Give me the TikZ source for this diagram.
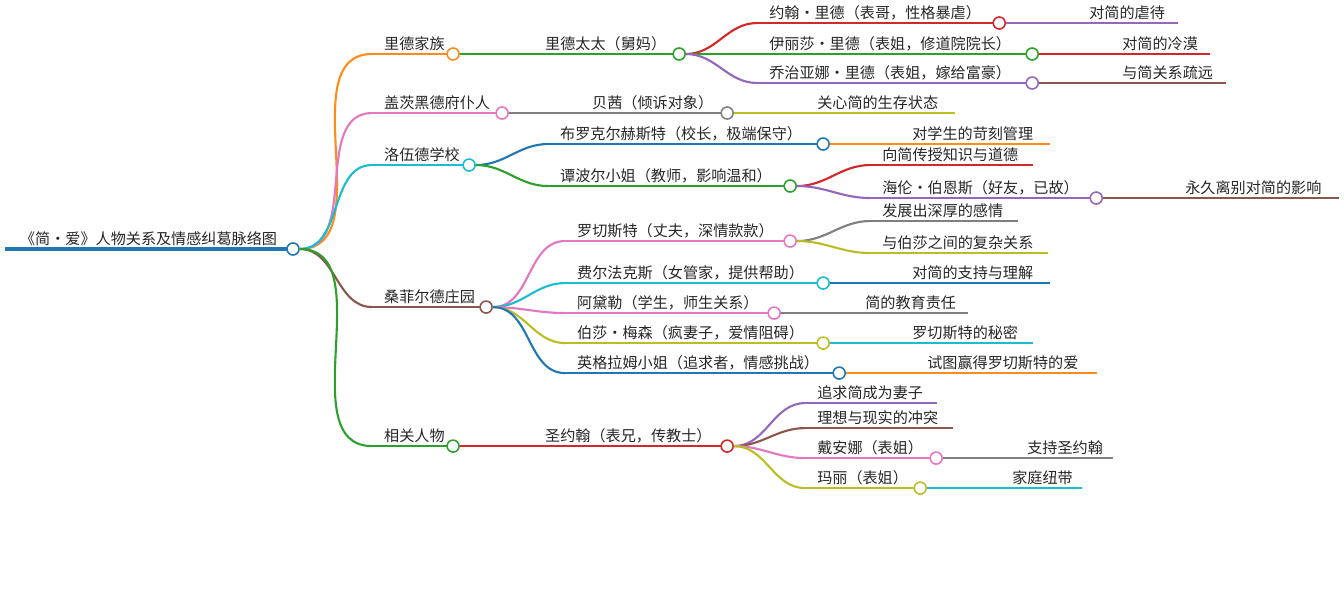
\documentclass[tikz,border=0pt]{standalone}
\usepackage{fontspec}
\setmainfont{Noto Sans CJK SC}
\definecolor{cBlue}{HTML}{1F77B4}
\definecolor{cOrange}{HTML}{FF8C1A}
\definecolor{cGreen}{HTML}{2CA02C}
\definecolor{cRed}{HTML}{D62728}
\definecolor{cPurple}{HTML}{9467BD}
\definecolor{cBrown}{HTML}{8C564B}
\definecolor{cPink}{HTML}{E377C2}
\definecolor{cGray}{HTML}{7F7F7F}
\definecolor{cOlive}{HTML}{BCBD22}
\definecolor{cCyan}{HTML}{17BECF}
\tikzset{
  link/.style={line width=1.2pt},
  dot/.style={circle, line width=0.9pt, fill=white, inner sep=0pt, minimum size=0.24cm},
  leaf/.style={draw=none, inner sep=0pt, minimum size=0pt},
  lbl/.style={font=\fontsize{8.6}{10}\selectfont, text=black!85, inner sep=1pt, anchor=south west}
}
% parent, name, y, text x, end x, colour, text, end style
\newcommand{\br}[8]{%
  \coordinate (#2s) at ({(#4-10)*0.02},{-#3*0.02});
  \draw[#6, link] (#1.east) to[out=0, in=180] (#2s);
  \draw[#6, link] (#2s) -- ({#5*0.02},{-#3*0.02}) node[draw=#6, #8] (#2) {};
  \node[lbl] at ({#4*0.02},{-(#3-1)*0.02}) {#7};
}
\begin{document}
\begin{tikzpicture}
\useasboundingbox (0,0) rectangle (26.88,-12.1);
% root
\draw[cBlue, line width=2.4pt] (0.1,-4.98) -- (5.86,-4.98) node[dot, draw=cBlue] (root) {};
\node[lbl] at (0.36,-4.96) {《简・爱》人物关系及情感纠葛脉络图};
% Reed family
\br{root}{reed}{54}{382}{453}{cOrange}{里德家族}{dot}
\br{reed}{mrs}{54}{543}{679}{cGreen}{里德太太（舅妈）}{dot}
\br{mrs}{john}{23}{767}{999}{cRed}{约翰・里德（表哥，性格暴虐）}{dot}
\br{john}{johnA}{23}{1087}{1178}{cPurple}{对简的虐待}{leaf}
\br{mrs}{eliza}{54}{767}{1032}{cGreen}{伊丽莎・里德（表姐，修道院院长）}{dot}
\br{eliza}{elizaA}{54}{1120}{1210}{cRed}{对简的冷漠}{leaf}
\br{mrs}{geo}{83}{767}{1032}{cPurple}{乔治亚娜・里德（表姐，嫁给富豪）}{dot}
\br{geo}{geoA}{83}{1120}{1226}{cBrown}{与简关系疏远}{leaf}
% Gateshead servants
\br{root}{gates}{113}{382}{502}{cPink}{盖茨黑德府仆人}{dot}
\br{gates}{bessie}{113}{590}{727}{cGray}{贝茜（倾诉对象）}{dot}
\br{bessie}{bessieA}{113}{815}{955}{cOlive}{关心简的生存状态}{leaf}
% Lowood
\br{root}{lowood}{165}{382}{469}{cCyan}{洛伍德学校}{dot}
\br{lowood}{brock}{144}{558}{823}{cBlue}{布罗克尔赫斯特（校长，极端保守）}{dot}
\br{brock}{brockA}{144}{910}{1050}{cOrange}{对学生的苛刻管理}{leaf}
\br{lowood}{temple}{186}{558}{790}{cGreen}{谭波尔小姐（教师，影响温和）}{dot}
\br{temple}{templeA}{165}{880}{1033}{cRed}{向简传授知识与道德}{leaf}
\br{temple}{helen}{198}{880}{1096}{cPurple}{海伦・伯恩斯（好友，已故）}{dot}
\br{helen}{helenA}{198}{1183}{1339}{cBrown}{永久离别对简的影响}{leaf}
% Thornfield
\br{root}{thorn}{307}{382}{486}{cBrown}{桑菲尔德庄园}{dot}
\br{thorn}{roch}{241}{575}{790}{cPink}{罗切斯特（丈夫，深情款款）}{dot}
\br{roch}{rochA}{221}{880}{1018}{cGray}{发展出深厚的感情}{leaf}
\br{roch}{rochB}{253}{880}{1048}{cOlive}{与伯莎之间的复杂关系}{leaf}
\br{thorn}{fair}{283}{575}{823}{cCyan}{费尔法克斯（女管家，提供帮助）}{dot}
\br{fair}{fairA}{283}{910}{1050}{cBlue}{对简的支持与理解}{leaf}
\br{thorn}{adele}{313}{575}{774}{cPink}{阿黛勒（学生，师生关系）}{dot}
\br{adele}{adeleA}{313}{863}{968}{cGray}{简的教育责任}{leaf}
\br{thorn}{bertha}{343}{575}{823}{cOlive}{伯莎・梅森（疯妻子，爱情阻碍）}{dot}
\br{bertha}{berthaA}{343}{910}{1033}{cCyan}{罗切斯特的秘密}{leaf}
\br{thorn}{ingram}{373}{575}{839}{cBlue}{英格拉姆小姐（追求者，情感挑战）}{dot}
\br{ingram}{ingramA}{373}{925}{1097}{cOrange}{试图赢得罗切斯特的爱}{leaf}
% Others
\br{root}{other}{446}{382}{453}{cGreen}{相关人物}{dot}
\br{other}{stjohn}{446}{543}{727}{cRed}{圣约翰（表兄，传教士）}{dot}
\br{stjohn}{sjA}{403}{815}{937}{cPurple}{追求简成为妻子}{leaf}
\br{stjohn}{sjB}{428}{815}{953}{cBrown}{理想与现实的冲突}{leaf}
\br{stjohn}{diana}{458}{815}{936}{cPink}{戴安娜（表姐）}{dot}
\br{diana}{dianaA}{458}{1025}{1113}{cGray}{支持圣约翰}{leaf}
\br{stjohn}{mary}{488}{815}{920}{cOlive}{玛丽（表姐）}{dot}
\br{mary}{maryA}{488}{1010}{1082}{cCyan}{家庭纽带}{leaf}
\end{tikzpicture}
\end{document}
